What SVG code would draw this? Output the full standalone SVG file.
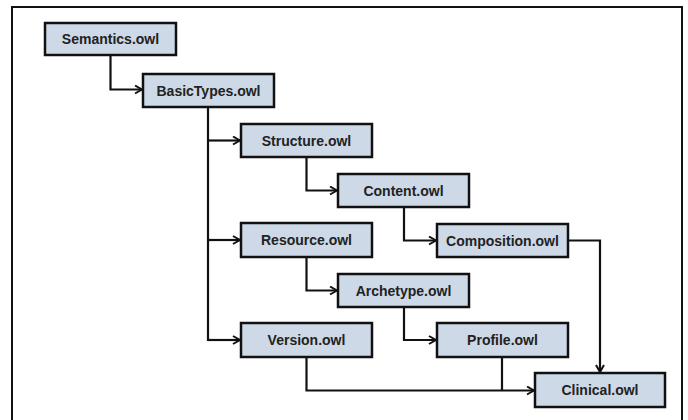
<svg xmlns="http://www.w3.org/2000/svg" width="688" height="420" viewBox="0 0 688 420">
<style>
.box{fill:#cdd9e7;stroke:#111;stroke-width:2.5}
.lbl{font-family:"Liberation Sans",Arial,sans-serif;font-weight:bold;font-size:14px;fill:#222;text-anchor:middle;dominant-baseline:central}
.c{fill:none;stroke:#111;stroke-width:2.2;stroke-linejoin:miter}
</style>
<defs>
<marker id="arr" viewBox="0 0 10 10" refX="9" refY="5" markerWidth="10" markerHeight="10" markerUnits="userSpaceOnUse" orient="auto">
<path d="M2,1 L9,5 L2,9" fill="none" stroke="#111" stroke-width="2"/>
</marker>
</defs>
<rect x="0" y="0" width="688" height="420" fill="#fff"/>
<rect x="12" y="7" width="670" height="420" fill="none" stroke="#111" stroke-width="2"/>
<g id="connectors">
<path class="c" d="M110.5,55 V89.5 H142" marker-end="url(#arr)"/>
<path class="c" d="M208,107 V340 H240"/>
<path class="c" d="M208,140.5 H240" marker-end="url(#arr)"/>
<path class="c" d="M208,240 H240" marker-end="url(#arr)"/>
<path class="c" d="M208,340 H240" marker-end="url(#arr)"/>
<path class="c" d="M306.5,157 V190.5 H337" marker-end="url(#arr)"/>
<path class="c" d="M404,207 V240.5 H436" marker-end="url(#arr)"/>
<path class="c" d="M306.5,257 V290.5 H337" marker-end="url(#arr)"/>
<path class="c" d="M404,307 V340 H436" marker-end="url(#arr)"/>
<path class="c" d="M568,240.5 H600 V372" marker-end="url(#arr)"/>
<path class="c" d="M306.5,357 V390.5 H534" marker-end="url(#arr)"/>
<path class="c" d="M502,357 V390.5"/>
</g>
<g id="semantics"><rect class="box" x="45" y="23" width="131" height="32"/><text class="lbl" x="110.5" y="39">Semantics.owl</text></g>
<g id="basictypes"><rect class="box" x="143" y="74" width="131" height="33"/><text class="lbl" x="208.5" y="90.5">BasicTypes.owl</text></g>
<g id="structure"><rect class="box" x="241" y="124" width="131" height="33"/><text class="lbl" x="306.5" y="140.5">Structure.owl</text></g>
<g id="content"><rect class="box" x="338" y="174" width="131" height="33"/><text class="lbl" x="403.5" y="190.5">Content.owl</text></g>
<g id="resource"><rect class="box" x="241" y="223" width="131" height="34"/><text class="lbl" x="306.5" y="240">Resource.owl</text></g>
<g id="composition"><rect class="box" x="437" y="224" width="131" height="33"/><text class="lbl" x="502.5" y="240.5">Composition.owl</text></g>
<g id="archetype"><rect class="box" x="338" y="274" width="131" height="33"/><text class="lbl" x="403.5" y="290.5">Archetype.owl</text></g>
<g id="version"><rect class="box" x="241" y="323" width="131" height="34"/><text class="lbl" x="306.5" y="340">Version.owl</text></g>
<g id="profile"><rect class="box" x="437" y="323" width="131" height="34"/><text class="lbl" x="502.5" y="340">Profile.owl</text></g>
<g id="clinical"><rect class="box" x="535" y="373" width="130" height="34"/><text class="lbl" x="600" y="390">Clinical.owl</text></g>
</svg>
